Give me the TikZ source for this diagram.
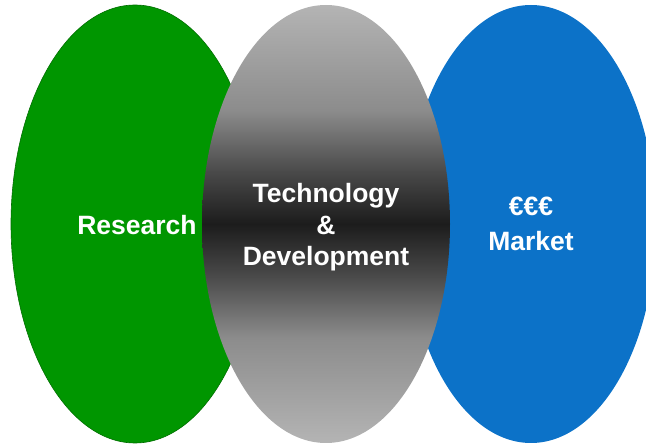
\documentclass[tikz,border=0pt]{standalone}
\usepackage{fontspec}
\setmainfont{Liberation Sans}
\definecolor{resgreen}{RGB}{0,150,0}
\definecolor{resgreenline}{RGB}{0,110,0}
\definecolor{mktblue}{RGB}{12,114,200}
\definecolor{gA}{RGB}{180,180,180}
\definecolor{gB}{RGB}{140,140,140}
\definecolor{gC}{RGB}{74,74,74}
\definecolor{gD}{RGB}{28,28,28}
\pgfdeclareverticalshading{grayband}{100bp}{color(0bp)=(gA); color(25bp)=(gA); color(37bp)=(gB); color(44bp)=(gC); color(50bp)=(gD); color(56bp)=(gC); color(63bp)=(gB); color(75bp)=(gA); color(100bp)=(gA)}
\tikzset{
  lbl/.style={text=white, font=\fontsize{26.5}{31}\selectfont\bfseries, anchor=base, inner sep=0pt}
}
\begin{document}
\begin{tikzpicture}[x=1pt,y=-1pt]
\useasboundingbox (0,0) rectangle (646,446);
\clip (0,0) rectangle (646,446);
% ellipses
\fill[resgreen, draw=resgreenline, line width=0.6pt] (135,224) ellipse [x radius=124, y radius=219];
\fill[mktblue] (531,224) ellipse [x radius=125, y radius=219];
\shade[shading=grayband] (326,224) ellipse [x radius=124, y radius=219];
% labels
\node[lbl] (research) at (137,234.5) {Research};
\node[lbl] (tech) at (326,203) {Technology};
\node[lbl] (amp) at (326,234.5) {\&};
\node[lbl] (dev) at (326,266) {Development};
\node[lbl] (euro) at (531,216) {€€€};
\node[lbl] (market) at (531,250.5) {Market};
\end{tikzpicture}
\end{document}
